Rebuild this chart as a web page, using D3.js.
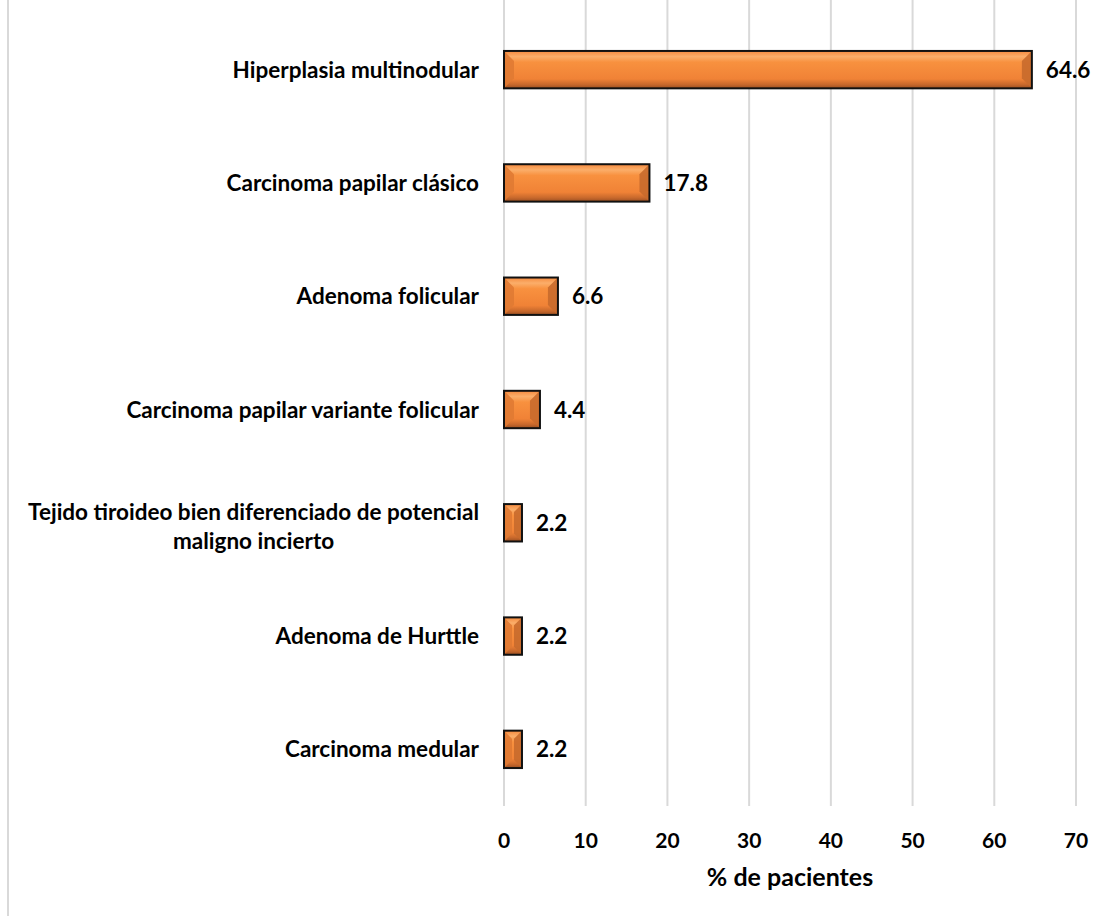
<!DOCTYPE html>
<html>
<head>
<meta charset="utf-8">
<script src="https://cdn.jsdelivr.net/npm/d3@7"></script>
<style>
  html, body { margin: 0; padding: 0; background: #fff; }
  svg text { font-family: "Lato", "Open Sans", sans-serif; font-weight: bold; fill: #000; }
</style>
</head>
<body>
<svg id="chart" width="1106" height="916"></svg>
<script>
// Diagnósticos histopatológicos (% de pacientes)
const categories = [
  "Hiperplasia multinodular",
  "Carcinoma papilar clásico",
  "Adenoma folicular",
  "Carcinoma papilar variante folicular",
  "Tejido tiroideo bien diferenciado de potencial|maligno incierto",
  "Adenoma de Hurttle",
  "Carcinoma medular"
];
const values = [64.6, 17.8, 6.6, 4.4, 2.2, 2.2, 2.2];
const xTicks = [0, 10, 20, 30, 40, 50, 60, 70];
const xTitle = "% de pacientes";

const svg = d3.select("#chart");
const W = 1106, H = 916;

// outer chart-area border (left edge only visible)
svg.append("line").attr("x1", 8).attr("x2", 8).attr("y1", 0).attr("y2", H)
  .attr("stroke", "#d9d9d9").attr("stroke-width", 2);

const x = d3.scaleLinear().domain([0, 70]).range([504, 1076]);
const y = d3.scaleBand().domain(categories).range([13, 806]).paddingInner(0.67).paddingOuter(0.335);

const defs = svg.append("defs");
const g1 = defs.append("linearGradient").attr("id", "barFill").attr("x1", 0).attr("y1", 0).attr("x2", 0).attr("y2", 1);
[[0, "#f58a3e"], [0.15, "#fbae6a"], [0.3, "#f8913f"], [0.75, "#f08236"], [0.9, "#c7682c"], [1, "#9a4f22"]]
  .forEach(([o, c]) => g1.append("stop").attr("offset", o).attr("stop-color", c));

// vertical gridlines
svg.append("g").selectAll("line").data(xTicks).join("line")
  .attr("x1", d => x(d)).attr("x2", d => x(d))
  .attr("y1", 0).attr("y2", 806)
  .attr("stroke", "#d9d9d9").attr("stroke-width", 2);

// bars with bevelled edges
const bars = svg.append("g").selectAll("g").data(categories).join("g");
bars.each(function(c, i) {
  const gg = d3.select(this);
  const x0 = x(0), x1 = x(values[i]);
  const y0 = y(c), h = y.bandwidth();
  const w = x1 - x0;
  const b = Math.min(10, w / 2 - 1, h / 3);
  gg.append("rect").attr("x", x0).attr("y", y0).attr("width", w).attr("height", h)
    .attr("fill", "url(#barFill)");
  // left bevel
  gg.append("polygon")
    .attr("points", [[x0, y0], [x0 + b, y0 + b], [x0 + b, y0 + h - b], [x0, y0 + h]].join(" "))
    .attr("fill", "#e07a33").attr("opacity", 0.9);
  // right bevel (darker)
  gg.append("polygon")
    .attr("points", [[x1, y0], [x1 - b, y0 + b], [x1 - b, y0 + h - b], [x1, y0 + h]].join(" "))
    .attr("fill", "#c86a2c").attr("opacity", 0.9);
  gg.append("rect").attr("x", x0).attr("y", y0).attr("width", w).attr("height", h)
    .attr("fill", "none").attr("stroke", "#111").attr("stroke-width", 2);
  // value label
  gg.append("text").attr("x", x1 + 14).attr("y", y0 + h / 2).attr("dy", "0.36em")
    .attr("font-size", 22.5).text(values[i]);
});

// category labels (multi-line labels centred as a block, right-aligned)
const labelRight = 479;
const lab = svg.append("g").selectAll("g").data(categories).join("g");
lab.each(function(d) {
  const parts = d.split("|");
  const gg = d3.select(this);
  const cy = y(d) + y.bandwidth() / 2 + (parts.length > 1 ? 4 : 0);
  const lh = 29;
  const texts = parts.map((p, k) => gg.append("text")
    .attr("font-size", 22.5)
    .attr("y", cy + (k - (parts.length - 1) / 2) * lh).attr("dy", "0.36em")
    .text(p));
  const widths = texts.map(t => t.node().getComputedTextLength());
  const maxW = d3.max(widths);
  const cx = labelRight - maxW / 2;
  texts.forEach(t => t.attr("x", cx).attr("text-anchor", "middle"));
});

// x axis tick labels
svg.append("g").selectAll("text").data(xTicks).join("text")
  .attr("x", d => x(d)).attr("y", 848).attr("text-anchor", "middle")
  .attr("font-size", 21).text(d => d);

svg.append("text").attr("x", 790).attr("y", 886).attr("text-anchor", "middle")
  .attr("font-size", 25).text(xTitle);
</script>
</body>
</html>
